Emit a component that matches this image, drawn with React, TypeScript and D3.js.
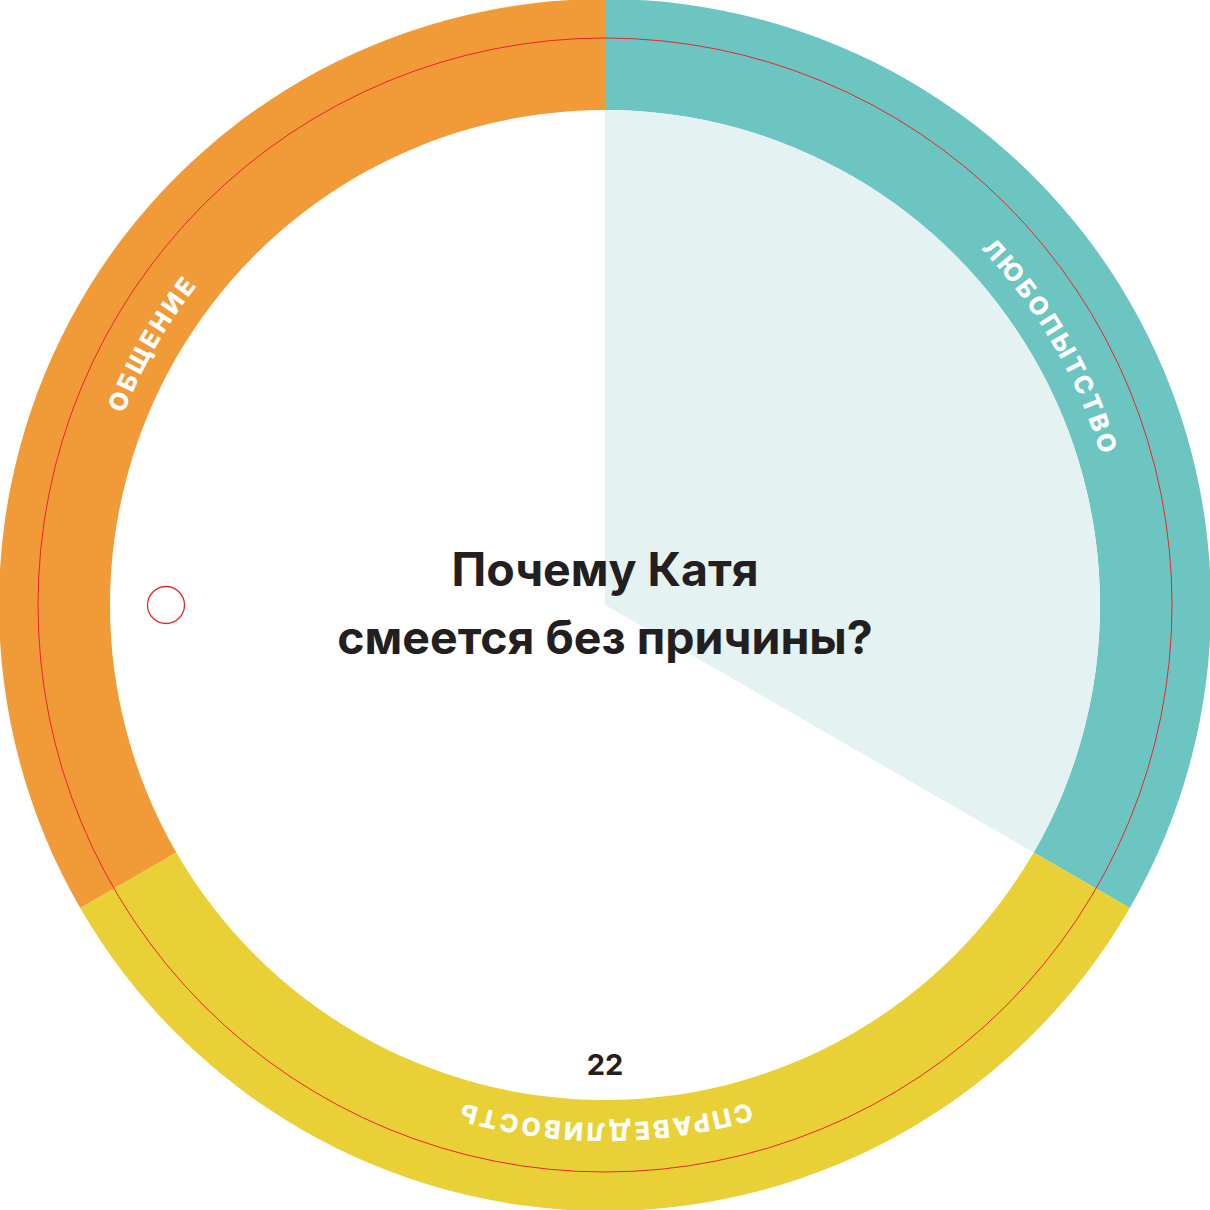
import React from "react";
import * as d3 from "d3";

const categories = ["ЛЮБОПЫТСТВО", "СПРАВЕДЛИВОСТЬ", "ОБЩЕНИЕ"];
const values = [1, 1, 1];
const colors = ["#6cc5c1", "#e9d037", "#f19a38"];
const highlightIndex = 0;
const highlightColor = "#e4f3f2";
const titleLines = ["Почему Катя", "смеется без причины?"];
const pageNumber = "22";

const W = 1210;
const H = 1210;
const cx = 605;
const cy = 605;
const rOuter = 606;
const rInner = 495;
const rRed = 567;
const rText = 518;

export default function App() {
  const pie = d3
    .pie<number>()
    .sort(null)
    .value((d) => d)
    .startAngle(0)
    .endAngle(2 * Math.PI);
  const arcs = pie(values);
  const ring = d3.arc<d3.PieArcDatum<number>>().innerRadius(rInner).outerRadius(rOuter);
  const sector = d3.arc<d3.PieArcDatum<number>>().innerRadius(0).outerRadius(rInner);
  const pt = (a: number, r: number) => [r * Math.sin(a), -r * Math.cos(a)];

  return (
    <svg
      width={W}
      height={H}
      viewBox={`0 0 ${W} ${H}`}
      style={{ position: "absolute", left: 0, top: 0, background: "#fff" }}
    >
      <defs>
        {arcs.map((a, i) => {
          const [x0, y0] = pt(a.startAngle, rText);
          const [x1, y1] = pt(a.endAngle, rText);
          return (
            <path
              key={i}
              id={`lp${i}`}
              d={`M${x0},${y0} A${rText},${rText} 0 0 1 ${x1},${y1}`}
            />
          );
        })}
      </defs>
      <g transform={`translate(${cx},${cy})`}>
        {arcs.map((a, i) => (
          <path key={i} d={ring(a) || ""} fill={colors[i]} />
        ))}
        <path d={sector(arcs[highlightIndex]) || ""} fill={highlightColor} />
        <circle r={rRed} fill="none" stroke="#e8262b" strokeWidth={1} />
        {arcs.map((a, i) => (
          <text
            key={i}
            fill="#fff"
            fontFamily="Inter, 'Noto Sans', sans-serif"
            fontWeight={800}
            fontSize={25}
            letterSpacing={3}
          >
            <textPath href={`#lp${i}`} startOffset="50%" textAnchor="middle">
              {categories[i]}
            </textPath>
          </text>
        ))}
        <circle cx={-439} cy={0} r={18.5} fill="none" stroke="#e8262b" strokeWidth={1.3} />
        <text
          textAnchor="middle"
          fill="#231f20"
          fontFamily="Inter, 'Noto Sans', sans-serif"
          fontWeight={700}
          fontSize={46.5}
        >
          <tspan x={0} y={-19}>{titleLines[0]}</tspan>
          <tspan x={0} y={49}>{titleLines[1]}</tspan>
        </text>
        <text
          x={0}
          y={470}
          textAnchor="middle"
          fill="#231f20"
          fontFamily="Inter, 'Noto Sans', sans-serif"
          fontWeight={700}
          fontSize={29}
        >
          {pageNumber}
        </text>
      </g>
    </svg>
  );
}
